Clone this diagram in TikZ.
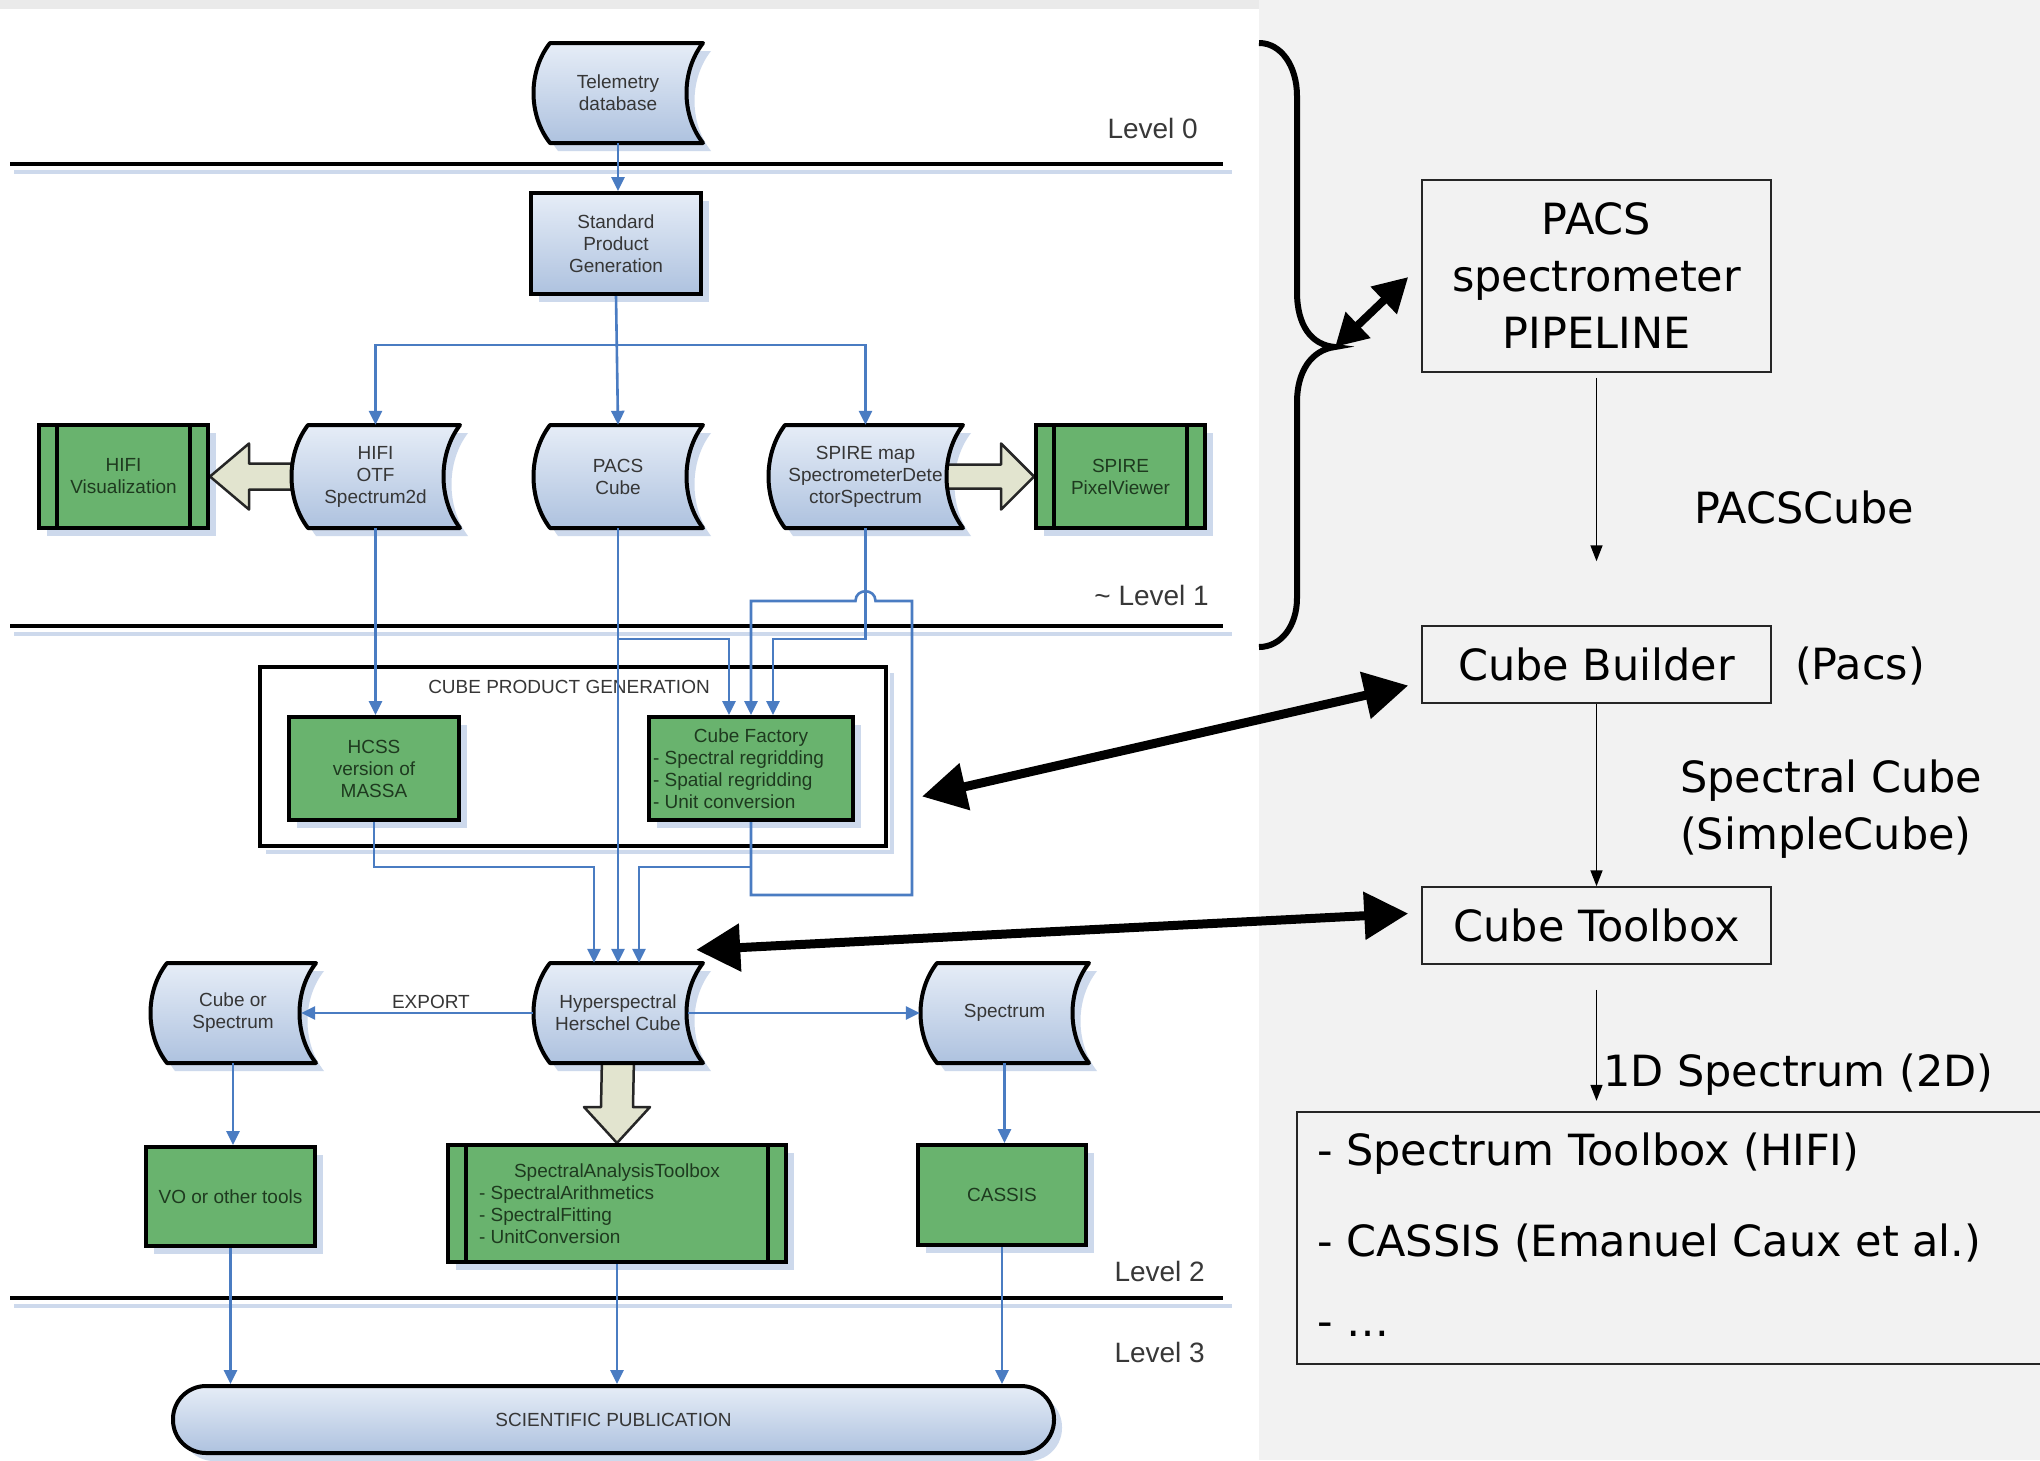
\documentclass[tikz,border=0pt]{standalone}
\usepackage{fontspec}
\setmainfont{Liberation Sans}
\newfontfamily\dvsans{DejaVu Sans}
\usetikzlibrary{arrows.meta,calc}
\pgfdeclarelayer{pagelayer}
\pgfdeclarelayer{backlayer}
\pgfsetlayers{pagelayer,backlayer,main}

\definecolor{conncol}{HTML}{4A7CC2}
\definecolor{dsfillA}{HTML}{E6EDF7}
\definecolor{dsfillB}{HTML}{AEC2DF}
\definecolor{shcol}{HTML}{CDD9EC}
\definecolor{grfill}{HTML}{69B36E}
\definecolor{grtext}{HTML}{1E3A1F}
\definecolor{bltext}{HTML}{363636}
\definecolor{beige}{HTML}{E2E4CF}
\definecolor{pagebg}{HTML}{F2F2F2}
\definecolor{topbg}{HTML}{EAEAEA}
\definecolor{lvltext}{HTML}{383838}

\newcommand{\dgmfont}{\fontsize{19}{22}\selectfont}
\newcommand{\lvlfont}{\fontsize{28}{32}\selectfont}
\newcommand{\rfont}{\dvsans\fontsize{43}{57}\selectfont}

% data-store outline: x0 y0 x1 y1 (pixel coordinates, y downwards)
\newcommand{\dspath}[4]{({#1+17},{#2}) -- ({#3},{#2}) .. controls ({#3-22},{#2+0.28*(#4-#2)}) and ({#3-22},{#4-0.28*(#4-#2)}) .. ({#3},{#4}) -- ({#1+17},{#4}) .. controls ({#1-5},{#4-0.28*(#4-#2)}) and ({#1-5},{#2+0.28*(#4-#2)}) .. ({#1+17},{#2}) -- cycle}

\newcommand{\dstore}[6]{%
  \begin{pgfonlayer}{backlayer}
    \fill[shcol,shift={(8,8)}] \dspath{#2}{#3}{#4}{#5};
  \end{pgfonlayer}
  \shade[top color=dsfillA,bottom color=dsfillB] \dspath{#2}{#3}{#4}{#5};
  \draw[line width=4pt,line join=round] \dspath{#2}{#3}{#4}{#5};
  \node[bnode,minimum width={#4-#2},minimum height={#5-#3}] (#1) at ({(#2+#4)/2},{(#3+#5)/2}) {#6};
}
\newcommand{\gbox}[6]{%
  \begin{pgfonlayer}{backlayer}
    \fill[shcol] ({#2+8},{#3+8}) rectangle ({#4+8},{#5+8});
  \end{pgfonlayer}
  \node[gnode,minimum width={#4-#2},minimum height={#5-#3}] (#1) at ({(#2+#4)/2},{(#3+#5)/2}) {#6};
}
\newcommand{\gbars}[1]{%
  \draw[line width=4pt] ($(#1.north west)+(20,0)$) -- ($(#1.south west)+(20,0)$);
  \draw[line width=4pt] ($(#1.north east)+(-20,0)$) -- ($(#1.south east)+(-20,0)$);
}

\tikzset{
  bnode/.style={inner sep=0pt,text=bltext,font=\dgmfont,align=center},
  gnode/.style={draw=black,line width=4pt,fill=grfill,inner sep=0pt,text=grtext,font=\dgmfont,align=center},
  snode/.style={draw=black,line width=4pt,top color=dsfillA,bottom color=dsfillB,inner sep=0pt,text=bltext,font=\dgmfont,align=center},
  conn/.style={draw=conncol,line width=2.6pt,-{Triangle[length=14pt,width=13pt]}},
  blockarr/.style={fill=beige,draw=black!85,line width=2.5pt,line join=round},
  lvlline/.style={line width=4.5pt,black},
  lvlshadow/.style={line width=4pt,shcol},
  lvltxt/.style={inner sep=0pt,text=lvltext,font=\lvlfont},
  rbox/.style={draw=black!85,line width=1.5pt,inner sep=0pt,font=\rfont,align=center},
  rtext/.style={inner sep=0pt,font=\rfont,align=left},
  rarr/.style={draw=black,line width=1.6pt,-{Triangle[length=16pt,width=12pt]}},
  bigarr/.style={draw=black,line width=9pt,{Triangle[length=44pt,width=46pt]}-{Triangle[length=44pt,width=46pt]}},
  bracearr/.style={draw=black,line width=8pt,{Triangle[length=32pt,width=34pt]}-{Triangle[length=34pt,width=36pt]}}
}

\begin{document}
\begin{tikzpicture}[x=1pt,y=-1pt]
\useasboundingbox (0,0) rectangle (2040,1460);
\begin{pgfonlayer}{pagelayer}
  \fill[pagebg] (0,0) rectangle (2040,1460);
  \fill[topbg] (0,0) rectangle (1259,9);
  \fill[white] (0,9) rectangle (1259,1460);
\end{pgfonlayer}

% level lines
\begin{pgfonlayer}{backlayer}
  \draw[lvlshadow] (14,172) -- (1232,172);
  \draw[lvlshadow] (14,634) -- (1232,634);
  \draw[lvlshadow] (14,1306) -- (1232,1306);
\end{pgfonlayer}
\draw[lvlline] (10,164) -- (1223,164);
\draw[lvlline] (10,626) -- (1223,626);
\draw[lvlline] (10,1298) -- (1223,1298);
\node[lvltxt,anchor=east] (lv0) at (1198,128) {Level 0};
\node[lvltxt,anchor=east] (lv1) at (1209,595) {\textasciitilde\ Level 1};
\node[lvltxt,anchor=east] (lv2) at (1205,1271) {Level 2};
\node[lvltxt,anchor=east] (lv3) at (1205,1352) {Level 3};

% level 0/1 nodes
\dstore{tel}{533}{43}{703}{143}{Telemetry\\database}
\begin{pgfonlayer}{backlayer}
  \fill[shcol] (539,201) rectangle (709,302);
\end{pgfonlayer}
\node[snode,minimum width=170,minimum height=101] (spg) at (616,243.5) {Standard\\Product\\Generation};
\dstore{hifi}{291}{425}{460}{528}{HIFI\\OTF\\Spectrum2d}
\dstore{pacs}{533}{425}{703}{528}{PACS\\Cube}
\dstore{spire}{768}{425}{963}{528}{SPIRE map\\SpectrometerDete\\ctorSpectrum}
\gbox{hviz}{39}{425}{208}{528}{HIFI\\Visualization}
\gbars{hviz}
\gbox{spv}{1036}{425}{1205}{528}{SPIRE\\PixelViewer}
\gbars{spv}

% cube product generation
\begin{pgfonlayer}{backlayer}
  \draw[shcol,line width=4pt] (266,852) -- (892,852) -- (892,673);
\end{pgfonlayer}
\node[draw=black,line width=4pt,minimum width=626,minimum height=179,inner sep=0pt] (cpg) at (573,756.5) {};
\node[bnode] (cpgt) at (569,687) {CUBE PRODUCT GENERATION};
\gbox{hcss}{289}{717}{459}{820}{HCSS\\version of\\MASSA}
\gbox{cf}{649}{717}{853}{820}{\parbox{196pt}{\raggedright\makebox[\linewidth][c]{Cube Factory}\\- Spectral regridding\\- Spatial regridding\\- Unit conversion}}

% level 2 nodes
\dstore{cos}{150}{963}{316}{1063}{Cube or\\Spectrum}
\dstore{hyper}{533}{963}{703}{1063}{Hyperspectral\\Herschel Cube}
\dstore{spec}{920}{963}{1089}{1063}{Spectrum}
\gbox{vo}{146}{1147}{315}{1246}{VO or other tools}
\gbox{sat}{448}{1145}{786}{1262}{\parbox{276pt}{\raggedright\makebox[\linewidth][c]{SpectralAnalysisToolbox}\\- SpectralArithmetics\\- SpectralFitting\\- UnitConversion}}
\gbars{sat}
\gbox{cassis}{918}{1145}{1086}{1245}{CASSIS}

% scientific publication
\begin{pgfonlayer}{backlayer}
  \fill[shcol,rounded corners=33pt] (181,1394) rectangle (1062,1461);
\end{pgfonlayer}
\node[snode,rounded corners=33pt,minimum width=881,minimum height=67] (sp) at (613.5,1419.5) {SCIENTIFIC PUBLICATION};

% block arrows
\begin{pgfonlayer}{backlayer}
  \draw[blockarr] ($(hviz.east)+(39,-13)$) -- ($(hifi.west)+(12,-13)$) -- ($(hifi.west)+(12,13)$) -- ($(hviz.east)+(39,13)$) -- ($(hviz.east)+(39,33)$) -- (hviz.east) -- ($(hviz.east)+(39,-33)$) -- cycle;
  \draw[blockarr] ($(spire.east)+(-22,-12)$) -- ($(spv.west)+(-33,-12)$) -- ($(spv.west)+(-33,-33)$) -- (spv.west) -- ($(spv.west)+(-33,33)$) -- ($(spv.west)+(-33,12)$) -- ($(spire.east)+(-22,12)$) -- cycle;
  \draw[blockarr] ($(hyper.south)+(-16,-6)$) -- ($(sat.north)+(-16,-36)$) -- ($(sat.north)+(-33,-36)$) -- (sat.north) -- ($(sat.north)+(33,-36)$) -- ($(sat.north)+(16,-36)$) -- ($(hyper.south)+(16,-6)$) -- cycle;
\end{pgfonlayer}

% connectors
\draw[conn] (tel.south) -- (tel.south |- spg.north);
\draw[conn] (spg.south) -- (pacs.north);
\coordinate (br) at (616,345);
\draw[conn] (br) -| (hifi.north);
\draw[conn] (br) -| (spire.north);
\draw[conn] (hifi.south) -- (hifi.south |- hcss.north);
\draw[conn] (pacs.south) -- (pacs.south |- hyper.north);
\coordinate (pb) at (618,639);
\draw[conn] (pb) -| ($(cf.north)+(-22,0)$);
\draw[conn] (spire.south) -- (spire.south |- pb) -| ($(cf.north)+(22,0)$);
\coordinate (lpa) at (912,601);
\coordinate (lpb) at (912,895);
\path (spire.south |- lpa) coordinate (hop);
\draw[conn] (cf.south) -- (cf.south |- lpb) -- (lpb) -- (lpa) -- ($(hop)+(10,0)$) .. controls ($(hop)+(10,-13)$) and ($(hop)+(-10,-13)$) .. ($(hop)+(-10,0)$) -- (cf.north |- lpa) -- (cf.north);
\draw[conn] ($(cf.south)+(0,45)$) -| ($(hyper.north)+(21,0)$);
\draw[conn] (hcss.south) -- ++(0,45) -| ($(hyper.north)+(-24,0)$);
\draw[conn] (hyper.west) -- ($(cos.east)+(-15,0)$) node[pos=0.44,above=3pt,bnode] (exp) {EXPORT};
\draw[conn] ($(hyper.east)+(-15,0)$) -- (spec.west);
\draw[conn] (cos.south) -- (cos.south |- vo.north);
\draw[conn] (spec.south) -- (spec.south |- cassis.north);
\draw[conn] (vo.south) -- (vo.south |- sp.north);
\draw[conn] (sat.south) -- (sat.south |- sp.north);
\draw[conn] (cassis.south) -- (cassis.south |- sp.north);

% right side
\draw[line width=6pt] (1259,43) .. controls (1281,43) and (1297,66) .. (1297,96) -- (1297,292) .. controls (1297,325) and (1311,345) .. (1335,347) coordinate (bt) .. controls (1311,350) and (1297,372) .. (1297,402) -- (1297,598) .. controls (1297,626) and (1281,647) .. (1259,647);
\node[rbox,minimum width=349,minimum height=192] (pipe) at (1596.5,276) {PACS\\spectrometer\\PIPELINE};
\node[rbox,minimum width=349,minimum height=77] (builder) at (1596.5,664.5) {Cube Builder};
\node[rbox,minimum width=349,minimum height=77] (toolbox) at (1596.5,925.5) {Cube Toolbox};
\node[inner sep=0pt,minimum width=750,minimum height=252] (listbox) at (1672,1238) {};
\draw[draw=black!85,line width=1.5pt] (listbox.north east) -- (listbox.north west) -- (listbox.south west) -- (listbox.south east);

\draw[rarr,shorten <=5pt,shorten >=64pt] (pipe.south) -- (builder.north);
\draw[rarr] (builder.south) -- (toolbox.north);
\draw[rarr,shorten <=25pt,shorten >=11pt] (toolbox.south) -- (toolbox.south |- listbox.north);

\node[rtext,anchor=west] (pcube) at (1694,507) {PACSCube};
\node[rtext] (pacslbl) at (1860,666) {(Pacs)};
\node[rtext,anchor=west] (scube) at (1680,809) {Spectral Cube\\(SimpleCube)};
\node[rtext,anchor=west] (oned) at (1603,1075) {1D Spectrum (2D)};
\node[rtext,anchor=west] (li1) at (1317,1154) {- Spectrum Toolbox (HIFI)};
\node[rtext,anchor=west] (li2) at (1317,1243) {- CASSIS (Emanuel Caux et al.)};
\node[rtext,anchor=west] (li3) at (1317,1330) {- …};

\draw[bracearr] (bt) -- ($(pipe.west)+(-13,1)$);
\draw[bigarr] ($(cpg.east)+(34,40)$) -- ($(builder.west)+(-13,21)$);
\draw[bigarr] ($(hyper.north east)+(-7,-13)$) -- ($(toolbox.west)+(-13,-12)$);
\end{tikzpicture}
\end{document}
